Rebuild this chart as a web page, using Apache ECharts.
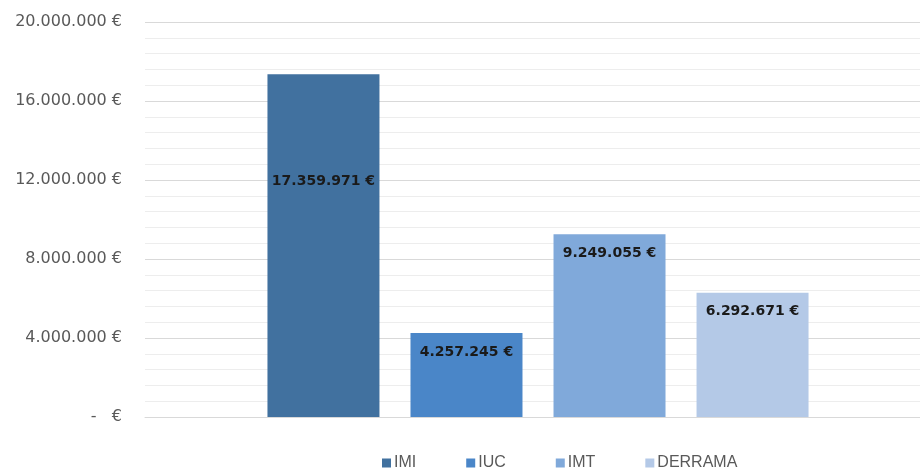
<!DOCTYPE html>
<html><head><meta charset="utf-8">
<script src="https://cdn.jsdelivr.net/npm/echarts@6/dist/echarts.min.js"></script>
<style>html,body{margin:0;padding:0;background:#fff}#c{width:920px;height:468px}</style>
</head><body><div id="c"></div>
<script>
const seriesNames = ['IMI', 'IUC', 'IMT', 'DERRAMA'];
const seriesValues = [17359971, 4257245, 9249055, 6292671];
const yTicks = [0, 4000000, 8000000, 12000000, 16000000, 20000000];
const colors = ['#41719f', '#4a86c8', '#80a9da', '#b4c9e7'];
const labelDistance = [100, 12, 12, 12];

function fmt(v) {
  return String(Math.round(v)).replace(/\B(?=(\d{3})+(?!\d))/g, '.');
}
const chart = echarts.init(document.getElementById('c'));
chart.setOption({
  animation: false,
  textStyle: { fontFamily: 'Liberation Sans' },
  grid: { left: 145, right: -11, top: 22, bottom: 51, containLabel: false, outerBoundsMode: 'none' },
  legend: {
    top: 450, left: 377,
    itemWidth: 9, itemHeight: 9, itemGap: 50,
    icon: 'rect',
    textStyle: { color: '#595959', fontSize: 16, fontFamily: 'Liberation Sans', padding: [0, 0, 0, -2] },
    data: seriesNames
  },
  xAxis: {
    type: 'category', data: [''],
    axisLine: { show: true, lineStyle: { color: '#d9d9d9' } },
    axisTick: { show: false }, axisLabel: { show: false }
  },
  yAxis: {
    type: 'value', min: yTicks[0], max: yTicks[yTicks.length - 1], interval: yTicks[1] - yTicks[0],
    axisLine: { show: false }, axisTick: { show: false },
    axisLabel: {
      color: '#595959', fontSize: 16, fontFamily: 'DejaVu Sans', margin: 23,
      formatter: v => v === 0 ? '-   €' : fmt(v) + ' €'
    },
    splitLine: { lineStyle: { color: '#d9d9d9', width: 1 } },
    minorTick: { show: false, splitNumber: 5 },
    minorSplitLine: { show: true, lineStyle: { color: '#ededed', width: 1 } }
  },
  series: seriesNames.map((n, i) => ({
    name: n, type: 'bar', data: [seriesValues[i]],
    barWidth: 112, barGap: '27.7%',
    itemStyle: { color: colors[i] },
    label: {
      show: true, position: 'insideTop', distance: labelDistance[i],
      color: '#1a1a1a', fontWeight: 'bold', fontSize: 14, fontFamily: 'DejaVu Sans',
      formatter: p => fmt(p.value) + ' €'
    }
  }))
});
</script></body></html>
